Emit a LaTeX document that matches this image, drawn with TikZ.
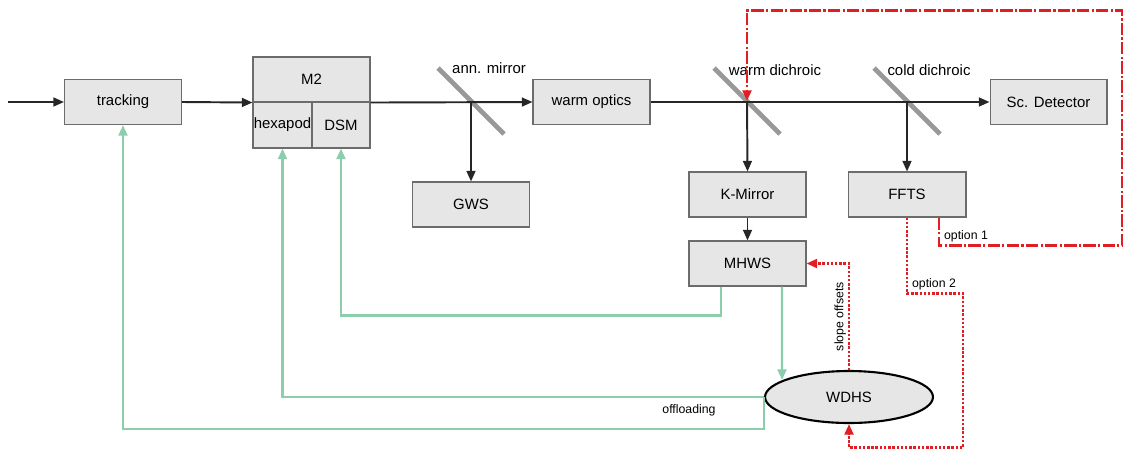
\documentclass[tikz,border=0pt]{standalone}
\usepackage{fontspec}
\setmainfont{Liberation Sans}
\usetikzlibrary{arrows.meta,shapes.geometric}
\definecolor{boxgray}{RGB}{230,230,230}
\definecolor{fbgreen}{RGB}{140,206,172}
\definecolor{optred}{RGB}{225,30,35}
\tikzset{
  box/.style={draw=gray!85!black, fill=boxgray, line width=.6pt, inner sep=0pt,
    minimum width=2.34cm, minimum height=.9cm, font=\fontsize{8.5}{10}\selectfont},
  lbl/.style={inner sep=1pt, font=\fontsize{8.5}{10}\selectfont},
  lbls/.style={inner sep=1pt, font=\fontsize{7}{8}\selectfont},
  mirror/.style={draw=gray!80, line width=2.8pt},
  beam/.style={draw=black!85, line width=1.1pt, -{Triangle[length=6pt,width=5pt]}},
  fb/.style={draw=fbgreen, line width=1.4pt, -{Triangle[length=6pt,width=5pt]}},
  optA/.style={draw=optred, line width=1.4pt, dash pattern=on 7pt off 1.3pt on 1.3pt off 1.3pt,
    -{Triangle[length=6pt,width=5pt]}},
  optB/.style={draw=optred, line width=1.4pt, densely dotted, -{Triangle[length=6pt,width=5pt]}}
}
\begin{document}
\begin{tikzpicture}[x=0.02cm, y=-0.02cm]
    \useasboundingbox (0,0) rectangle (1124,450);

    \node[box] (tracking) at (123,102) {tracking};
    \node[box, minimum width=2.34cm] (m2) at (311.5,79.5) {M2};
    \node[box, minimum width=1.18cm, minimum height=.92cm] (hexa) at (282.5,125) {hexapod};
    \node[box, minimum width=1.16cm, minimum height=.92cm] (dsm) at (341,125) {DSM};
    \node[box] (wopt) at (591.5,102) {warm optics};
    \node[box] (gws) at (471,204.5) {GWS};
    \node[box] (kmir) at (747.5,194.5) {K-Mirror};
    \node[box] (mhws) at (747.5,263.5) {MHWS};
    \node[box, minimum width=2.36cm] (ffts) at (907,194.5) {FFTS};
    \node[box] (scdet) at (1048.5,102) {Sc. Detector};
    \node[ellipse, draw=black, fill=boxgray, line width=1.2pt, minimum width=3.36cm,
      minimum height=1.04cm, font=\fontsize{8.5}{10}\selectfont] (wdhs) at (849,397) {WDHS};

    \coordinate (in) at (8,102);
    \coordinate (amir) at (471,101);
    \coordinate (wdich) at (747,101);
    \coordinate (cdich) at (907,101);
    \coordinate (wdin) at (782,380);

    \draw[mirror] (438,68) -- (504,134);
    \draw[mirror] (714,68) -- (780,134);
    \draw[mirror] (874,68) -- (940,134);
    \node[lbl] (amirlbl) at (489,68) {ann. mirror};
    \node[lbl] (wdichlbl) at (775,70) {warm dichroic};
    \node[lbl] (cdichlbl) at (929,70) {cold dichroic};

    \draw[beam] (in) -- (tracking.west);
    \draw[beam] (tracking.east) -- (m2.south west);
    \draw[beam] (m2.south east) -- (wopt.west);
    \draw[beam] (amir) -- (gws.north);
    \draw[beam] (wopt.east) -- (scdet.west);
    \draw[beam] (wdich) -- (kmir.north);
    \draw[beam] (kmir) -- (mhws);
    \draw[beam] (cdich) -- (ffts.north);

    \draw[fb] ([xshift=-.53cm]mhws.south) -- ++(0,29) -| (dsm.south);
    \draw[fb] ([xshift=.69cm]mhws.south) -- (wdin);
    \draw[fb] (wdhs.west) -| (hexa.south);
    \draw[fb] (wdhs.west) -- ++(0,32) -| (tracking.south);
    \node[lbls] (offl) at (689,410) {offloading};

    \draw[optB] (wdhs.north) |- node[pos=.25, rotate=90, above, lbls] {slope offsets} (mhws.east);
    \draw[optA] ([xshift=.64cm]ffts.south) -- ++(0,28) -- ++(183,0) -- ++(0,-235) -| (wdich);
    \draw[optB] (ffts.south) -- ++(0,76) -- ++(56,0) -- ++(0,154) -| (wdhs.south);
    \node[lbls, anchor=south west] (opt1) at (942,244) {option 1};
    \node[lbls, anchor=south west] (opt2) at (910,292) {option 2};
\end{tikzpicture}
\end{document}
